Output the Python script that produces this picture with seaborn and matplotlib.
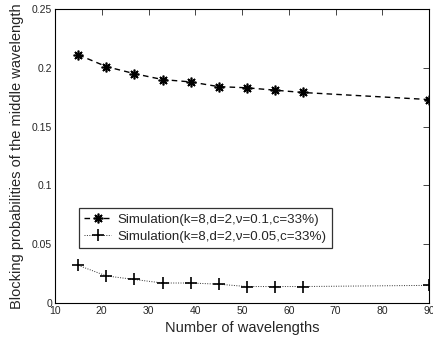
import matplotlib
matplotlib.use("Agg")
import matplotlib.pyplot as plt
import seaborn as sns
import pandas as pd

wavelengths = [15, 21, 27, 33, 39, 45, 51, 57, 63, 90]
sim_v01 = [0.211, 0.201, 0.195, 0.190, 0.188, 0.184, 0.183, 0.181, 0.179, 0.173]
sim_v005 = [0.032, 0.023, 0.020, 0.017, 0.017, 0.016, 0.014, 0.014, 0.014, 0.015]
labels = ["Simulation(k=8,d=2,\u03bd=0.1,c=33%)", "Simulation(k=8,d=2,\u03bd=0.05,c=33%)"]
xticks = [10, 20, 30, 40, 50, 60, 70, 80, 90]
yticks = [0, 0.05, 0.1, 0.15, 0.2, 0.25]
ytick_labels = ["0", "0.05", "0.1", "0.15", "0.2", "0.25"]

sns.set_style("white")
plt.rcParams['font.family'] = ['Liberation Sans', 'DejaVu Sans']

df = pd.DataFrame({
    "x": wavelengths * 2,
    "y": sim_v01 + sim_v005,
    "series": [labels[0]] * len(wavelengths) + [labels[1]] * len(wavelengths),
})

fig = plt.figure(figsize=(4.33, 3.44), dpi=100)
ax = fig.add_axes([55 / 433, 1 - 303 / 344, 374 / 433, 294 / 344])

sns.lineplot(data=df, x="x", y="y", hue="series", style="series", ax=ax,
             palette={labels[0]: "black", labels[1]: "black"},
             markers={labels[0]: "x", labels[1]: "+"},
             dashes={labels[0]: (4, 3), labels[1]: (1, 1.5)},
             linewidth=1.0, markersize=7, markeredgewidth=1.0,
             markeredgecolor="black", legend=False)

lines = ax.get_lines()
lines[0].set_marker((8, 2, 0))
lines[0].set_markersize(7)
lines[0].set_markeredgewidth(1.2)
lines[1].set_marker("+")
lines[1].set_markersize(8)
lines[1].set_markeredgewidth(1.2)
lines[1].set_linewidth(0.7)
lines[1].set_color("#333333")
lines[1].set_markeredgecolor("black")

ax.set_xlim(10, 90)
ax.set_ylim(0, 0.25)
ax.set_xticks(xticks)
ax.set_xticklabels([str(t) for t in xticks])
ax.set_yticks(yticks)
ax.set_yticklabels(ytick_labels)
ax.tick_params(direction="in", top=True, right=True, labelsize=7.5, length=4, width=0.6, pad=2)
for s in ax.spines.values():
    s.set_linewidth(0.8)
    s.set_color("black")
ax.set_xlabel("Number of wavelengths", fontsize=10.5, labelpad=4)
ax.set_ylabel("Blocking probabilities of the middle wavelength", fontsize=10.5, labelpad=6)

leg = ax.legend(lines[:2], labels, loc="lower left", bbox_to_anchor=(0.064, 0.187), fontsize=9.6,
                frameon=True, fancybox=False, edgecolor="black", handlelength=2.0,
                borderpad=0.4, labelspacing=0.35, handletextpad=0.5, borderaxespad=0)
leg.get_frame().set_linewidth(0.9)

fig.savefig("out.png", dpi=100)
